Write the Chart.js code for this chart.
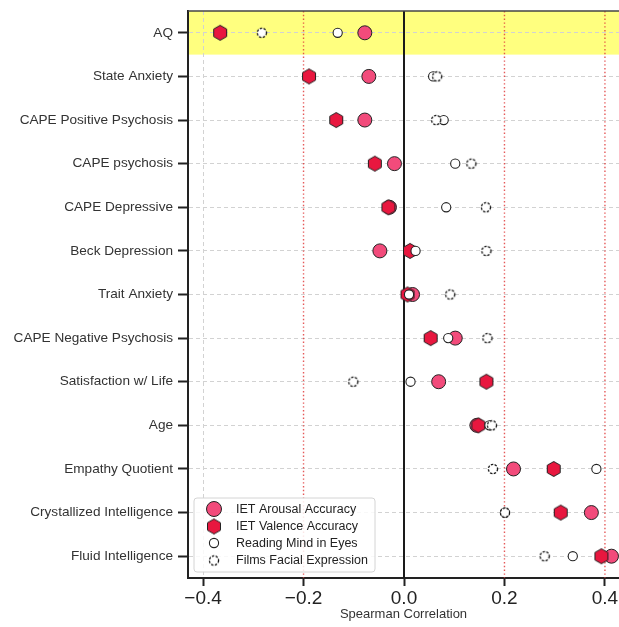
<!DOCTYPE html>
<html>
<head>
<meta charset="utf-8">
<script src="https://cdn.jsdelivr.net/npm/chart.js@4.4.1/dist/chart.umd.min.js"></script>
<style>
  html, body { margin: 0; padding: 0; background: #fff; }
  #wrap { width: 619px; height: 627px; }
</style>
</head>
<body>
<div id="wrap"><canvas id="myChart"></canvas></div>
<script>
// categories (top to bottom)
const categories = [
  "AQ", "State Anxiety", "CAPE Positive Psychosis", "CAPE psychosis",
  "CAPE Depressive", "Beck Depression", "Trait Anxiety",
  "CAPE Negative Psychosis", "Satisfaction w/ Life", "Age",
  "Empathy Quotient", "Crystallized Intelligence", "Fluid Intelligence"
];
// spearman correlations
const arousal = [-0.078, -0.070, -0.078, -0.019, -0.029, -0.048, 0.017, 0.102, 0.069, 0.145, 0.218, 0.373, 0.413];
const valence = [-0.366, -0.189, -0.135, -0.058, -0.031, 0.012, 0.007, 0.053, 0.164, 0.148, 0.298, 0.312, 0.393];
const readingMind = [-0.132, 0.058, 0.079, 0.102, 0.084, 0.023, 0.010, 0.088, 0.013, 0.170, 0.383, 0.201, 0.336];
const filmsFacial = [-0.283, 0.066, 0.064, 0.134, 0.163, 0.164, 0.092, 0.166, -0.101, 0.175, 0.177, 0.201, 0.280];
const xTicks = [-0.4, -0.2, 0.0, 0.2, 0.4];
const redLines = [-0.2, 0.2, 0.4];
const highlighted = "AQ";

const seriesNames = ["IET Arousal Accuracy", "IET Valence Accuracy", "Reading Mind in Eyes", "Films Facial Expression"];

// marker images (chart.js has no hexagon / dashed circle)
function hexagonImg(r, fill) {
  const c = document.createElement("canvas");
  c.width = 20; c.height = 20;
  const g = c.getContext("2d");
  g.beginPath();
  for (let k = 0; k < 6; k++) {
    const a = (-90 + 60 * k) * Math.PI / 180;
    const px = 10 + r * Math.cos(a), py = 10 + r * Math.sin(a);
    k === 0 ? g.moveTo(px, py) : g.lineTo(px, py);
  }
  g.closePath();
  g.fillStyle = fill;
  g.fill();
  g.lineWidth = 1;
  g.strokeStyle = "#222";
  g.stroke();
  return c;
}
function dashedCircleImg(r) {
  const c = document.createElement("canvas");
  c.width = 14; c.height = 14;
  const g = c.getContext("2d");
  g.beginPath();
  g.arc(7, 7, r, 0, Math.PI * 2);
  g.fillStyle = "#fff";
  g.fill();
  g.setLineDash([2.4, 1.4]);
  g.lineWidth = 1.3;
  g.strokeStyle = "#111";
  g.stroke();
  return c;
}
const hexImg = hexagonImg(7.5, "#E8173F");
const dashImg = dashedCircleImg(4.6);

function toPoints(vals) {
  return vals.map((v, i) => ({ x: v, y: categories[i] }));
}

// yellow band, reference lines, top border
const backdrop = {
  id: "backdrop",
  beforeDraw(chart) {
    const { ctx, chartArea } = chart;
    const y = chart.scales.y;
    const idx = categories.indexOf(highlighted);
    const half = (y.getPixelForValue(1) - y.getPixelForValue(0)) / 2;
    const cy = y.getPixelForValue(idx);
    ctx.save();
    ctx.fillStyle = "rgba(255,255,0,0.5)";
    ctx.fillRect(chartArea.left, cy - half, chartArea.right - chartArea.left, 2 * half);
    ctx.restore();
  },
  beforeDatasetsDraw(chart) {
    const { ctx, chartArea } = chart;
    const x = chart.scales.x;
    ctx.save();
    ctx.strokeStyle = "rgba(225,60,60,0.85)";
    ctx.lineWidth = 1.4;
    ctx.setLineDash([1.4, 2.4]);
    redLines.forEach((v) => {
      const px = x.getPixelForValue(v);
      ctx.beginPath();
      ctx.moveTo(px, chartArea.top);
      ctx.lineTo(px, chartArea.bottom);
      ctx.stroke();
    });
    ctx.setLineDash([]);
    ctx.strokeStyle = "#1a1a1a";
    ctx.lineWidth = 2;
    const zx = x.getPixelForValue(0);
    ctx.beginPath();
    ctx.moveTo(zx, chartArea.top);
    ctx.lineTo(zx, chartArea.bottom);
    ctx.stroke();
    ctx.strokeStyle = "#444";
    ctx.lineWidth = 1.6;
    ctx.beginPath();
    ctx.moveTo(chartArea.left, chartArea.top);
    ctx.lineTo(chartArea.right, chartArea.top);
    ctx.stroke();
    ctx.restore();
  },
  afterDatasetsDraw(chart) {
    // legend box, lower left inside the axes
    const { ctx, chartArea } = chart;
    const bx = chartArea.left + 6, by = chartArea.bottom - 80, bw = 181, bh = 74;
    ctx.save();
    ctx.fillStyle = "rgba(255,255,255,0.85)";
    ctx.strokeStyle = "#d4d4d4";
    ctx.lineWidth = 1;
    ctx.beginPath();
    ctx.roundRect(bx, by, bw, bh, 3);
    ctx.fill();
    ctx.stroke();
    const mx = bx + 20, tx = bx + 42;
    const rows = [by + 11, by + 28.5, by + 45, by + 62.5];
    // arousal circle
    ctx.beginPath();
    ctx.arc(mx, rows[0], 7.5, 0, Math.PI * 2);
    ctx.fillStyle = "#F24B7B";
    ctx.fill();
    ctx.lineWidth = 1;
    ctx.strokeStyle = "#222";
    ctx.stroke();
    ctx.drawImage(hexImg, mx - 10, rows[1] - 10);
    ctx.beginPath();
    ctx.arc(mx, rows[2], 4.6, 0, Math.PI * 2);
    ctx.fillStyle = "#fff";
    ctx.fill();
    ctx.lineWidth = 1.1;
    ctx.stroke();
    ctx.drawImage(dashImg, mx - 7, rows[3] - 7);
    ctx.fillStyle = "#222";
    ctx.font = "12.5px 'Liberation Sans', Arial, sans-serif";
    ctx.textBaseline = "middle";
    ctx.textAlign = "left";
    seriesNames.forEach((n, i) => ctx.fillText(n, tx, rows[i] + 0.5));
    ctx.restore();
  }
};

new Chart(document.getElementById("myChart"), {
  type: "scatter",
  data: {
    datasets: [
      {
        label: seriesNames[0],
        data: toPoints(arousal),
        pointStyle: "circle",
        pointRadius: 7,
        backgroundColor: "#F24B7B",
        borderColor: "#222",
        borderWidth: 1,
        order: 4
      },
      {
        label: seriesNames[1],
        data: toPoints(valence),
        pointStyle: hexImg,
        order: 3
      },
      {
        label: seriesNames[2],
        data: toPoints(readingMind),
        pointStyle: "circle",
        pointRadius: 4.6,
        backgroundColor: "#fff",
        borderColor: "#222",
        borderWidth: 1.1,
        order: 2
      },
      {
        label: seriesNames[3],
        data: toPoints(filmsFacial),
        pointStyle: dashImg,
        order: 1
      }
    ]
  },
  options: {
    responsive: true,
    maintainAspectRatio: false,
    animation: false,
    layout: { autoPadding: false, padding: { top: 11, right: 0, left: 0, bottom: 0 } },
    plugins: {
      legend: { display: false },
      tooltip: { enabled: false }
    },
    scales: {
      x: {
        type: "linear",
        min: -0.43,
        max: 0.428,
        afterBuildTicks: (scale) => {
          scale.ticks = xTicks.map((v) => ({ value: v }));
        },
        afterFit: (scale) => {
          scale.height = 49;
          scale.paddingLeft = 0;
          scale.paddingRight = 0;
        },
        ticks: {
          callback: (v) => v.toFixed(1).replace("-", "\u2212"),
          color: "#222",
          font: { family: "'Liberation Sans', Arial, sans-serif", size: 19 },
          padding: 1
        },
        grid: {
          color: (c) => (c.tick && c.tick.value === -0.4 ? "#d2d2d2" : "rgba(0,0,0,0)"),
          lineWidth: 1,
          drawTicks: true,
          tickLength: 8,
          tickColor: "#222",
          tickWidth: 2
        },
        border: { display: true, color: "#222", width: 2, dash: [4, 3] },
        title: {
          display: true,
          text: "Spearman Correlation",
          color: "#333",
          font: { family: "'Liberation Sans', Arial, sans-serif", size: 13 },
          padding: { top: 0, bottom: 5 }
        }
      },
      y: {
        type: "category",
        labels: categories,
        offset: true,
        afterFit: (scale) => {
          scale.width = 188;
          scale.paddingTop = 0;
          scale.paddingBottom = 0;
        },
        ticks: {
          color: "#333",
          font: { family: "'Liberation Sans', Arial, sans-serif", size: 13.6 },
          padding: 5
        },
        grid: {
          color: "#d2d2d2",
          lineWidth: 1,
          offset: false,
          drawTicks: true,
          tickLength: 10,
          tickColor: "#222",
          tickWidth: 2
        },
        border: { display: true, color: "#222", width: 2, dash: [4, 3] }
      }
    }
  },
  plugins: [backdrop]
});
</script>
</body>
</html>
